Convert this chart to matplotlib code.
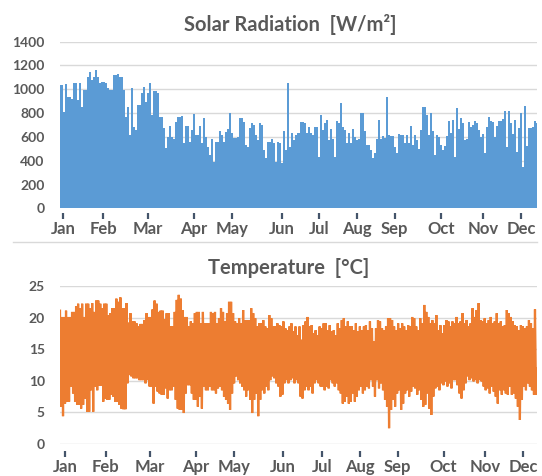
import numpy as np
import matplotlib.pyplot as plt
from matplotlib.lines import Line2D

plt.rcParams['font.family'] = ['Lato', 'DejaVu Sans']
plt.rcParams['font.weight'] = 'bold'

months = ['Jan', 'Feb', 'Mar', 'Apr', 'May', 'Jun',
          'Jul', 'Aug', 'Sep', 'Oct', 'Nov', 'Dec']

# daily peak solar radiation [W/m2] left to right
solar = [
    1036, 1036, 812, 1042, 938, 938, 916, 1050, 1050, 910, 1050, 854, 994, 994, 1100,
    1148, 1078, 1100, 1162, 1106, 1050, 1058, 1058, 1056, 1008, 994, 994, 1120, 1120, 1128,
    1106, 1106, 994, 770, 854, 616, 1008, 686, 658, 868, 868, 966, 1022, 896, 972,
    1050, 784, 988, 988, 966, 764, 764, 672, 504, 602, 692, 602, 580, 728,
    764, 764, 776, 546, 692, 692, 560, 658, 792, 616, 616, 692, 546, 756, 602,
    518, 448, 580, 392, 560, 560, 652, 616, 560, 644, 664, 798, 630, 588, 588,
    602, 756, 756, 728, 532, 518, 672, 714, 700, 616, 574, 714, 700, 490, 420,
    560, 560, 580, 546, 392, 560, 546, 378, 652, 490, 1050, 518, 630, 574, 616,
    630, 728, 728, 714, 630, 680, 630, 616, 686, 680, 434, 784, 658, 720, 742,
    574, 664, 580, 434, 736, 714, 888, 680, 658, 546, 630, 546, 664, 602, 574,
    580, 804, 804, 652, 532, 532, 490, 420, 468, 580, 742, 580, 608, 588, 932,
    616, 608, 608, 518, 462, 624, 616, 616, 546, 616, 546, 692, 532, 616, 574,
    496, 658, 848, 848, 784, 616, 804, 652, 448, 616, 596, 532, 490, 526, 608,
    736, 630, 742, 434, 840, 664, 756, 714, 574, 580, 722, 680, 700, 736, 720,
    658, 602, 624, 462, 680, 770, 736, 728, 602, 692, 736, 736, 748, 820, 518,
    820, 720, 624, 742, 476, 672, 804, 344, 860, 526, 672, 672, 686, 736, 720,
]

# daily max / min temperature [C]
temp_max = [
    21.1, 20.1, 20.1, 21.1, 20.1, 20.1, 20.9, 20.9, 21.8, 22.2, 21.5, 22.2, 20.1, 22.2, 22.2,
    21.5, 22.3, 20.9, 22.7, 22.7, 22.2, 21.5, 22.2, 22.2, 20.4, 20.7, 21.5, 21.5, 23.0, 22.5,
    23.2, 21.5, 21.5, 22.3, 19.2, 20.7, 19.4, 19.4, 19.1, 18.6, 19.0, 19.0, 19.6, 20.7, 20.1,
    20.1, 21.3, 22.7, 22.2, 20.9, 21.1, 21.1, 19.7, 20.7, 20.7, 18.6, 18.6, 20.9, 22.8, 23.6,
    23.0, 21.2, 20.1, 20.1, 18.6, 19.4, 19.1, 20.7, 20.9, 20.9, 19.1, 20.9, 19.1, 19.1, 19.1,
    20.9, 20.7, 20.9, 19.1, 19.9, 21.5, 20.9, 19.4, 20.7, 22.5, 22.5, 20.7, 19.4, 19.1, 19.9,
    19.1, 21.2, 19.6, 19.6, 19.6, 21.5, 20.7, 19.9, 18.6, 19.1, 19.1, 19.6, 18.6, 18.3, 20.4,
    19.9, 18.6, 18.6, 19.1, 18.8, 18.6, 19.4, 18.3, 18.0, 18.6, 19.1, 17.8, 18.6, 17.2, 18.6,
    16.5, 18.8, 19.4, 20.1, 18.6, 18.8, 17.5, 18.0, 17.2, 18.6, 18.3, 19.1, 19.1, 18.0, 18.8,
    17.8, 18.0, 17.2, 19.1, 18.3, 19.6, 19.9, 18.6, 19.4, 18.6, 18.6, 18.0, 19.1, 17.8, 18.6,
    18.0, 18.6, 18.8, 18.0, 19.4,
    18.3, 16.2, 18.3, 19.6, 19.4, 18.3, 18.0, 18.6, 19.9, 19.9, 19.6, 18.6, 18.0, 19.1, 18.3,
    19.1, 18.6, 18.0, 18.8, 18.6, 20.1, 19.9, 18.6, 18.0, 19.9, 19.1, 22.0, 20.9, 20.1, 19.1,
    19.6, 19.1, 20.4, 18.0, 18.8, 17.5, 18.8, 19.6, 19.4, 18.6, 19.4, 19.1, 20.1, 19.1, 19.4,
    20.7, 19.1, 19.6, 18.6, 19.1, 21.5, 20.1, 21.2, 22.3, 19.6, 19.4, 19.9, 19.1, 19.6, 20.1,
    19.1, 19.4, 20.7, 19.1, 19.4, 18.6, 18.8, 21.2, 20.7, 20.1, 19.4, 18.8, 18.6, 18.0, 18.8,
    18.6, 18.3, 18.6, 19.6, 19.1, 18.3, 21.3, 11.9,
]
temp_min = [
    5.9, 4.4, 6.4, 6.7, 6.7, 9.1, 8.0, 6.7, 6.2, 6.2, 5.6, 6.2, 7.2, 5.1, 5.1,
    8.5, 5.1, 9.1, 8.5, 9.2, 9.2, 6.7, 7.2, 7.0, 7.0, 7.8, 7.5, 6.7, 6.7, 6.2,
    5.6, 5.5, 5.5, 9.6, 10.9, 10.7, 10.4, 10.4, 10.4, 10.1, 10.1, 10.1, 9.6, 10.1, 9.1,
    9.1, 6.4, 9.1, 8.3, 8.0, 7.8, 7.8, 8.8, 7.2, 8.5, 8.5, 9.1, 7.0, 5.6, 5.4,
    5.4, 4.9, 8.0, 9.3, 9.3, 8.0, 7.0, 7.0, 5.9, 7.5, 5.6, 9.1, 8.5, 8.5, 9.1,
    8.5, 8.5, 8.0, 8.8, 9.1, 8.5, 7.5, 7.0, 6.4, 5.4, 8.0, 9.6, 10.7, 10.1, 9.6,
    9.1, 8.5, 7.5, 8.5, 7.0, 4.9, 7.0, 8.0, 4.4, 7.0, 8.5, 8.0, 9.1, 8.5, 10.1,
    10.7, 10.4, 9.6, 9.1, 7.5, 7.8, 9.6, 10.1, 9.6, 10.1, 10.4, 9.6, 10.1, 9.6, 7.5,
    7.2, 8.5, 9.1, 8.5, 9.1, 8.0, 9.6, 10.1, 9.6, 9.1, 9.1, 8.5, 9.1, 8.8, 10.1,
    9.6, 9.1, 9.6, 8.5, 8.0, 6.4, 6.7, 7.5, 6.4, 6.7, 8.0, 6.7, 7.5, 8.5, 9.1,
    8.0, 8.5, 9.1, 8.8, 10.1,
    9.1, 7.5, 10.1, 8.8, 9.6, 8.5, 7.0, 5.9, 2.5, 5.4, 7.0, 5.9, 8.0, 8.5, 5.4,
    6.4, 8.0, 8.5, 7.5, 8.3, 9.1, 8.8, 7.8, 8.5, 7.0, 5.9, 6.2, 8.0, 5.6, 4.6,
    7.5, 8.8, 9.1, 8.5, 9.6, 9.3, 9.9, 9.1, 9.6, 8.8, 10.1, 10.1, 9.3, 8.0, 7.2,
    8.5, 9.6, 10.7, 10.1, 10.4, 9.9, 10.1, 9.6, 10.1, 9.9, 9.1, 8.5, 8.8, 8.0, 9.1,
    8.3, 7.5, 6.4, 8.5, 7.8, 8.5, 8.0, 7.8, 9.1, 7.8, 8.0, 7.2, 5.9, 3.8, 7.0,
    9.1, 8.5, 9.6, 9.1, 8.5, 7.8, 7.8, 11.5,
]

# where Excel put the month labels, as a share of the axis length
tick_frac_top = [0.006, 0.091, 0.184, 0.280, 0.360, 0.465, 0.544, 0.623, 0.702, 0.799, 0.887, 0.967]
tick_frac_bot = [0.011, 0.096, 0.189, 0.285, 0.365, 0.468, 0.549, 0.629, 0.708, 0.804, 0.891, 0.971]

blue = '#5B9BD5'
orange = '#ED7D31'
grey = '#595959'
grid = '#D9D9D9'

W, H = 542, 476
fig = plt.figure(figsize=(W / 100, H / 100), dpi=100)

ax1 = fig.add_axes([60 / W, 1 - 208.3 / H, 477 / W, 166.6 / H])
ax2 = fig.add_axes([60 / W, 1 - 444 / H, 477 / W, 158 / H])


def style(ax, n, fracs, outward):
    ax.set_xlim(0, n - 1)
    ax.set_xticks(np.array(fracs) * (n - 1))
    ax.set_xticklabels(months)
    ax.grid(axis='y', color=grid, lw=1)
    ax.set_axisbelow(True)
    for s in ['top', 'right', 'left']:
        ax.spines[s].set_visible(False)
    ax.spines['bottom'].set_position(('outward', outward))
    ax.spines['bottom'].set_color('none')
    ax.tick_params(axis='x', length=4, width=1.6, color='#44546A', pad=2,
                   labelsize=12, labelcolor=grey)
    ax.tick_params(axis='y', length=0, pad=11, labelsize=10, labelcolor=grey)


# solar radiation
x1 = np.arange(len(solar))
ax1.fill_between(x1, solar, step='mid', color=blue, lw=0)
ax1.set_ylim(0, 1400)
ax1.set_yticks(range(0, 1401, 200))
style(ax1, len(solar), tick_frac_top, 3.5)

# temperature: hourly curve swings between daily max and min
n2 = len(temp_max)
xz = np.ravel(np.column_stack([np.arange(n2), np.arange(n2) + 0.5]))[:-1]
yz = np.ravel(np.column_stack([temp_max, temp_min]))[:-1]
ax2.plot(xz, yz, color=orange, lw=1.6, solid_joinstyle='miter')
ax2.set_ylim(0, 25)
ax2.set_yticks(range(0, 26, 5))
style(ax2, n2, tick_frac_bot, 5)

fig.text(290 / W, 1 - 30.7 / H, 'Solar Radiation  [W/m²]', ha='center', va='baseline',
         fontsize=14.5, fontweight='bold', color=grey)
fig.text(289 / W, 1 - 273.5 / H, 'Temperature  [°C]', ha='center', va='baseline',
         fontsize=14.5, fontweight='bold', color=grey)

# border between the two charts
fig.add_artist(Line2D([13 / W, 537 / W], [1 - 241.5 / H] * 2, color=grid, lw=1))

fig.savefig('out.png', dpi=100)
